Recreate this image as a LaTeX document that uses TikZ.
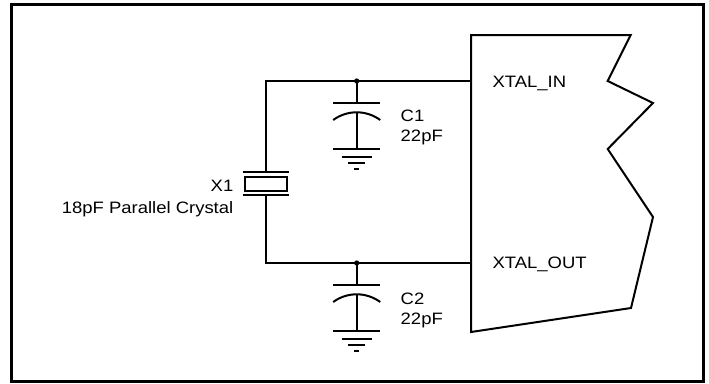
\documentclass[tikz,border=0pt]{standalone}
\usepackage{fontspec}
\setmainfont{Liberation Sans}
\newfontfamily\labfont[FakeStretch=1.12]{Liberation Sans}
\begin{document}
\begin{tikzpicture}[x=1pt,y=-1pt,
  wire/.style={line width=2pt},
  lbl/.style={font=\labfont\fontsize{16.5}{20}\selectfont, inner sep=0pt},
  capgnd/.pic={
    \draw[wire] (0,0) -- (0,22.3);
    \draw[wire] (-23.5,22.3) -- (23.5,22.3);
    \draw[wire] (-23.5,39) .. controls (-9.5,28.73) and (9.5,28.73) .. (23.5,39);
    \draw[wire] (0,31.3) -- (0,68.3);
    \draw[wire] (-23.5,68.3) -- (23.5,68.3);
    \draw[wire] (-15,75.7) -- (15,75.7);
    \draw[wire] (-8.5,81.7) -- (8.5,81.7);
    \draw[wire] (-2.5,88) -- (2.5,88);
  }]
\useasboundingbox (0,0) rectangle (709,383);
\draw[line width=2.7pt] (11.3,4.7) rectangle (703.7,381.7);
% chip outline
\draw[wire, line join=miter] (471,35) -- (630.7,35) -- (607.7,81) -- (653,103) -- (607.7,149)
  -- (653,217) -- (631,308) -- (471,332) -- cycle;
% key points
\coordinate (TL) at (265.7,81);
\coordinate (J1) at (356.7,81);
\coordinate (IN) at (471,81);
\coordinate (BL) at (265.7,263);
\coordinate (J2) at (356.7,263);
\coordinate (OUT) at (471,263);
\coordinate (XT) at (265.7,172.3);
\coordinate (XB) at (265.7,195);
% crystal
\node[draw, wire, rectangle, minimum width=41.7pt, minimum height=13.4pt, inner sep=0pt] (x1) at (265.85,184) {};
\draw[wire] (242.7,172.3) -- (289.3,172.3);
\draw[wire] (242.7,195) -- (289.3,195);
% wires
\draw[wire] (IN) -- (J1) -- (TL) -- (XT);
\draw[wire] (XB) -- (BL) -- (J2) -- (OUT);
\fill (J1) circle (2.6);
\fill (J2) circle (2.6);
% capacitors with ground
\pic at (J1) {capgnd};
\pic at (J2) {capgnd};
% labels
\node[lbl, anchor=base west] (c1) at (400.5,121) {C1};
\node[lbl, anchor=base west] (c1v) at (400.5,141) {22pF};
\node[lbl, anchor=base west] (c2) at (400.5,304) {C2};
\node[lbl, anchor=base west] (c2v) at (400.5,324) {22pF};
\node[lbl, anchor=base east] (x1l) at (233.5,191.7) {X1};
\node[lbl, anchor=base east] (x1v) at (233.5,213.3) {18pF Parallel Crystal};
\node[lbl, anchor=base west] (inl) at (492.3,87.5) {XTAL\_IN};
\node[lbl, anchor=base west] (outl) at (492.3,268) {XTAL\_OUT};
\end{tikzpicture}
\end{document}
